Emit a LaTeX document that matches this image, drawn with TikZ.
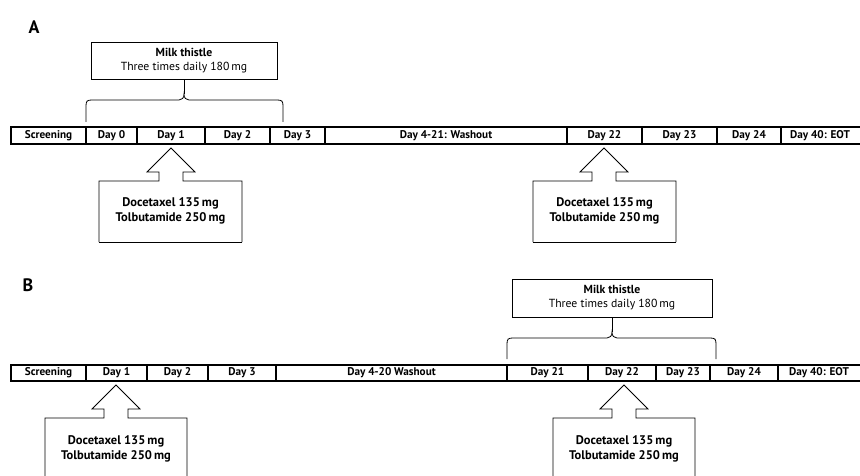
\documentclass[tikz,border=0pt]{standalone}
\usepackage{fontspec}
\setmainfont{PT Sans}
\tikzset{
  cell/.style={font=\bfseries\fontsize{11.2}{13}\selectfont, inner sep=0pt},
  calltext/.style={font=\bfseries\fontsize{12.5}{14.5}\selectfont, inner sep=0pt, align=center},
  milkbox/.style={draw, line width=0.7pt, inner sep=0pt, align=center, font=\fontsize{11.7}{14}\selectfont},
  barline/.style={line width=2pt},
  divline/.style={line width=1.4pt},
  outline/.style={line width=0.8pt, line join=miter},
  panellabel/.style={font=\bfseries\fontsize{18}{19}\selectfont, inner sep=0pt}
}
% callout: #1 tip x, #2 tip y, #3 left, #4 right, #5 bottom
\newcommand\mycallout[5]{%
  \draw[outline] (#3,#5) -- (#3,#2+33) -- (#1-12,#2+33) -- (#1-12,#2+24) -- (#1-24,#2+24)
    -- (#1,#2) -- (#1+24,#2+24) -- (#1+12,#2+24) -- (#1+12,#2+33) -- (#4,#2+33) -- (#4,#5);
  \draw[outline] (#3,#5) -- (#4,#5);
}
\begin{document}
\begin{tikzpicture}[x=1pt,y=-1pt]
\useasboundingbox (0,0) rectangle (860,476);
\clip (0,0) rectangle (860,476);

% ---------------- Panel A ----------------
\node[panellabel] (labA) at (34,27) {A};

\node[milkbox, minimum width=186pt, minimum height=37pt] (mtA) at (184,60.5)
  {\textbf{Milk thistle}\\Three times daily 180\,mg};
\draw[outline] (86,122) -- (86,106) .. controls (86,101) and (87,100) .. (92,100) -- (179,100)
  .. controls (182,100) and (184,98) .. (184,94) .. controls (184,98) and (186,100) .. (189,100)
  -- (277,100) .. controls (282,100) and (283,101) .. (283,106) -- (283,122);
\draw[outline] (mtA.south) -- (184,94);

% timeline bar A
\draw[barline] (10,127) -- (862,127);
\draw[barline] (10,144) -- (862,144);
\foreach \x in {11,86,137,205,270,325,567,642,717,781}
  \draw[divline] (\x,127) -- (\x,144);
\node[cell] (a0) at (48.5,135.5) {Screening};
\node[cell] (a1) at (111.5,135.5) {Day 0};
\node[cell] (a2) at (171,135.5) {Day 1};
\node[cell] (a3) at (237.5,135.5) {Day 2};
\node[cell] (a4) at (297.5,135.5) {Day 3};
\node[cell] (a5) at (446,135.5) {Day 4-21: Washout};
\node[cell] (a6) at (604.5,135.5) {Day 22};
\node[cell] (a7) at (679.5,135.5) {Day 23};
\node[cell] (a8) at (749,135.5) {Day 24};
\node[cell] (a9) at (820,135.5) {Day 40: EOT};

\mycallout{171}{148}{99}{242}{242}
\node[calltext] (dA1) at (170.5,211) {Docetaxel 135\,mg\\Tolbutamide 250\,mg};
\mycallout{604}{148}{533}{676}{242}
\node[calltext] (dA2) at (604.5,211) {Docetaxel 135\,mg\\Tolbutamide 250\,mg};

% ---------------- Panel B ----------------
\node[panellabel] (labB) at (28,285) {B};

\node[milkbox, minimum width=200pt, minimum height=38pt] (mtB) at (612,298)
  {\textbf{Milk thistle}\\Three times daily 180\,mg};
\draw[outline] (507,359) -- (507,344) .. controls (507,339) and (508,338) .. (513,338) -- (607,338)
  .. controls (610,338) and (612,336) .. (612,332) .. controls (612,336) and (614,338) .. (617,338)
  -- (710,338) .. controls (715,338) and (716,339) .. (716,344) -- (716,359);
\draw[outline] (mtB.south) -- (612,332);

% timeline bar B
\draw[barline] (10,365) -- (862,365);
\draw[barline] (10,381) -- (862,381);
\foreach \x in {11,86,147,208,276,507,588,656,710,778}
  \draw[divline] (\x,365) -- (\x,381);
\node[cell] (b0) at (48.5,373) {Screening};
\node[cell] (b1) at (116.5,373) {Day 1};
\node[cell] (b2) at (177.5,373) {Day 2};
\node[cell] (b3) at (242,373) {Day 3};
\node[cell] (b4) at (391.5,373) {Day 4-20 Washout};
\node[cell] (b5) at (547.5,373) {Day 21};
\node[cell] (b6) at (622,373) {Day 22};
\node[cell] (b7) at (683,373) {Day 23};
\node[cell] (b8) at (744,373) {Day 24};
\node[cell] (b9) at (819,373) {Day 40: EOT};

\mycallout{116}{385}{45}{187}{490}
\node[calltext] (dB1) at (116,449) {Docetaxel 135\,mg\\Tolbutamide 250\,mg};
\mycallout{624}{385}{553}{695}{490}
\node[calltext] (dB2) at (624,449) {Docetaxel 135\,mg\\Tolbutamide 250\,mg};
\end{tikzpicture}
\end{document}
